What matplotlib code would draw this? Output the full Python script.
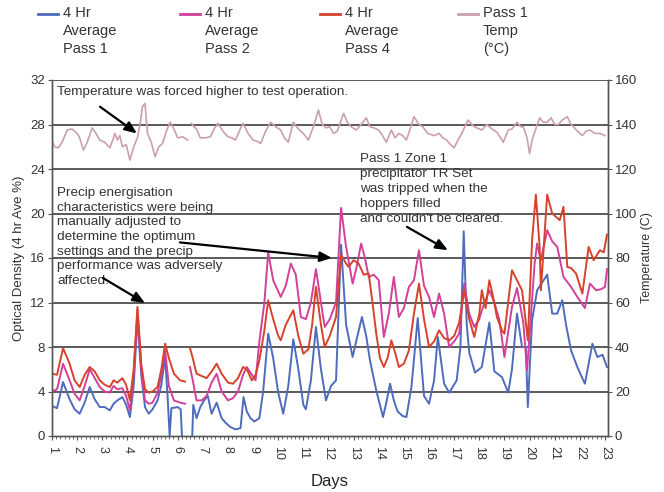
import numpy as np
import matplotlib
matplotlib.use("Agg")
from matplotlib import pyplot as plt
from matplotlib.ticker import MultipleLocator
from matplotlib.lines import Line2D

nan = np.nan

# 4 hr average, pass 1 (day, optical density %)
pass1 = [(1.0,2.7),(1.2,2.5),(1.44,4.85),(1.7,3.3),(1.9,2.4),(2.1,2.0),(2.3,3.0),(2.5,4.4),(2.7,3.3),(2.9,2.6),
	(3.1,2.6),(3.3,2.3),(3.45,2.9),(3.6,3.2),(3.8,3.5),(3.95,2.8),(4.1,1.7),(4.25,4.5),(4.4,10.6),(4.55,5.5),
	(4.7,2.6),(4.85,2.0),(5.0,2.4),(5.2,3.2),(5.35,4.6),(5.5,7.1),(5.6,3.5),(5.68,0.0),(5.75,2.5),(6.0,2.6),
	(6.12,2.4),(6.17,0.0),(6.3,nan),(6.58,0.0),(6.62,2.8),(6.75,1.6),(6.9,2.6),(7.05,3.2),(7.2,3.6),(7.35,2.0),
	(7.55,3.0),(7.75,1.6),(7.9,1.2),(8.1,0.8),(8.3,0.6),(8.5,0.7),(8.62,3.5),(8.75,2.2),(8.9,1.6),(9.05,1.3),
	(9.25,1.6),(9.4,4.0),(9.6,9.2),(9.8,7.0),(10.0,3.9),(10.2,2.0),(10.4,4.5),(10.6,8.7),(10.8,6.0),(11.0,2.8),
	(11.1,2.4),(11.3,5.0),(11.5,9.8),(11.7,6.0),(11.9,3.2),(12.1,4.5),(12.3,5.0),(12.5,17.2),(12.7,10.0),(12.96,7.1),
	(13.1,8.5),(13.33,10.7),(13.5,9.0),(13.65,6.8),(13.9,4.1),(14.17,1.7),(14.3,3.0),(14.45,4.7),(14.6,3.2),(14.75,2.2),
	(14.95,1.8),(15.1,1.7),(15.3,4.4),(15.55,10.6),(15.8,3.6),(16.0,2.9),(16.2,5.0),(16.35,8.9),(16.6,4.7),(16.8,3.9),
	(17.1,5.0),(17.25,8.0),(17.38,18.4),(17.5,10.0),(17.6,7.5),(17.83,5.7),(18.1,6.2),(18.4,10.2),(18.6,5.8),(18.9,5.3),
	(19.15,3.9),(19.3,6.0),(19.5,11.0),(19.7,8.0),(19.85,8.0),(19.93,2.6),(20.1,10.4),(20.3,13.1),(20.5,13.8),(20.7,14.5),
	(20.9,11.0),(21.1,11.0),(21.3,12.2),(21.45,10.0),(21.65,7.7),(21.9,6.2),(22.2,4.7),(22.35,6.5),(22.5,8.3),(22.7,7.1),
	(22.9,7.3),(23.08,6.2)]

# 4 hr average, pass 2
pass2 = [(1.0,4.0),(1.2,4.2),(1.44,6.5),(1.7,5.0),(1.9,3.8),(2.1,3.2),(2.3,4.5),(2.5,6.0),(2.7,5.2),(2.9,4.4),
	(3.1,4.0),(3.3,3.9),(3.45,4.5),(3.6,4.2),(3.8,4.3),(3.95,3.6),(4.1,2.3),(4.25,5.5),(4.4,11.3),(4.55,6.0),
	(4.7,3.2),(4.85,2.9),(5.0,3.0),(5.2,3.9),(5.35,5.5),(5.5,7.7),(5.65,4.5),(5.85,3.2),(6.1,3.0),(6.29,2.9),
	(6.4,nan),(6.49,6.2),(6.6,5.0),(6.75,3.2),(6.95,3.2),(7.15,3.6),(7.35,4.8),(7.55,5.6),(7.75,4.0),(8.0,3.2),
	(8.2,3.4),(8.4,4.0),(8.6,5.5),(8.75,6.2),(8.95,5.5),(9.1,5.0),(9.25,8.5),(9.45,12.0),(9.6,16.5),(9.8,14.0),
	(10.0,13.0),(10.1,12.5),(10.3,13.5),(10.5,15.5),(10.7,14.5),(10.9,10.7),(11.1,10.5),(11.3,12.0),(11.5,15.0),(11.7,12.0),
	(11.85,9.8),(12.05,10.5),(12.3,12.0),(12.5,20.5),(12.7,17.0),(12.96,13.7),(13.1,15.0),(13.3,17.3),(13.45,16.0),(13.6,14.3),
	(13.8,14.5),(14.0,14.0),(14.2,8.9),(14.4,11.0),(14.6,14.3),(14.8,10.7),(15.0,11.5),(15.2,13.4),(15.4,14.0),(15.6,16.7),
	(15.8,13.5),(16.0,12.5),(16.2,10.7),(16.4,12.8),(16.6,11.0),(16.8,8.0),(17.0,8.5),(17.2,9.2),(17.4,13.7),(17.6,11.0),
	(17.8,9.8),(18.0,10.5),(18.1,11.3),(18.4,13.1),(18.6,12.0),(18.8,10.4),(19.0,7.1),(19.3,11.6),(19.5,13.3),(19.75,10.2),
	(19.9,5.9),(20.2,15.5),(20.3,17.3),(20.45,15.8),(20.7,18.5),(20.9,17.5),(21.1,17.0),(21.35,14.3),(21.65,13.4),(21.9,12.5),
	(22.2,11.5),(22.4,13.7),(22.65,13.1),(22.85,13.2),(23.0,13.4),(23.08,15.0)]

# 4 hr average, pass 4
pass4 = [(1.0,5.6),(1.2,5.5),(1.44,7.9),(1.7,6.5),(1.9,5.0),(2.1,4.4),(2.3,5.5),(2.5,6.2),(2.7,5.8),(2.9,5.0),
	(3.1,4.6),(3.3,4.4),(3.45,5.0),(3.6,4.8),(3.8,5.2),(3.95,4.6),(4.1,3.2),(4.25,6.0),(4.4,11.6),(4.55,6.5),
	(4.7,4.2),(4.85,3.9),(5.0,4.0),(5.2,4.4),(5.35,6.0),(5.5,8.3),(5.65,7.0),(5.85,5.6),(6.1,5.0),(6.29,4.9),
	(6.4,nan),(6.49,7.9),(6.6,7.0),(6.75,5.6),(6.95,5.4),(7.15,5.2),(7.35,5.8),(7.55,6.5),(7.75,5.6),(8.0,4.8),
	(8.2,4.7),(8.4,5.2),(8.6,6.2),(8.75,6.0),(8.95,5.0),(9.1,5.5),(9.25,6.8),(9.45,9.5),(9.6,12.2),(9.8,10.5),
	(10.0,9.0),(10.1,8.6),(10.3,10.0),(10.6,11.3),(10.8,9.0),(11.0,7.4),(11.2,7.8),(11.35,10.0),(11.5,13.4),(11.7,10.0),
	(11.85,8.0),(12.05,9.0),(12.3,10.7),(12.5,16.3),(12.7,15.5),(12.8,15.2),(13.0,15.8),(13.2,15.5),(13.4,14.5),(13.6,14.6),
	(13.75,12.0),(13.9,9.2),(14.05,7.0),(14.2,6.2),(14.35,7.0),(14.5,8.6),(14.65,7.5),(14.8,6.2),(15.0,6.5),(15.2,7.7),
	(15.4,11.0),(15.6,13.7),(15.8,10.5),(16.0,8.0),(16.2,8.5),(16.4,9.5),(16.6,8.8),(16.8,8.6),(17.0,9.0),(17.2,10.2),
	(17.4,13.1),(17.6,10.5),(17.8,8.9),(18.0,11.0),(18.1,13.1),(18.25,11.5),(18.4,14.0),(18.55,12.5),(18.7,10.7),(18.9,9.5),
	(19.0,9.2),(19.3,14.9),(19.5,14.0),(19.7,13.1),(19.85,10.2),(19.93,8.6),(20.1,17.6),(20.25,21.7),(20.4,17.0),(20.45,13.1),
	(20.7,21.7),(20.9,20.0),(21.2,19.4),(21.35,20.6),(21.5,15.2),(21.65,15.1),(21.85,14.6),(22.1,12.8),(22.35,17.0),(22.55,15.8),
	(22.8,16.7),(22.95,16.5),(23.08,18.1)]

# pass 1 temperature (day, deg C)
temp1 = [(1.0,133),(1.1,130),(1.25,129.5),(1.4,132),(1.6,137.5),(1.8,138),(2.0,136),(2.1,134),(2.25,128.5),(2.4,132),
	(2.6,138.5),(2.75,136),(2.9,133),(3.1,132),(3.3,129.5),(3.45,134),(3.5,136),(3.6,133),(3.7,135),(3.8,130),
	(3.95,131),(4.1,124),(4.25,130),(4.4,134),(4.5,140),(4.6,148),(4.7,149.5),(4.8,136),(4.95,132),(5.1,125.5),
	(5.25,130),(5.4,131.5),(5.55,137),(5.7,141),(5.85,138),(6.0,134),(6.2,134.5),(6.4,133),(6.47,nan),(6.55,140.5),
	(6.65,139),(6.75,138),(6.9,134),(7.1,134),(7.3,134.5),(7.45,138),(7.6,140.5),(7.8,137),(8.0,134.5),(8.15,134),
	(8.3,133),(8.45,137),(8.6,140.5),(8.8,136),(9.0,133),(9.15,132.5),(9.3,131.5),(9.5,137),(9.7,141),(9.9,139),
	(10.1,137.5),(10.25,134),(10.4,132),(10.6,141),(10.8,138),(11.0,136),(11.2,133),(11.4,139),(11.6,146.5),(11.75,140),
	(11.9,138.5),(12.05,139),(12.2,136),(12.35,137),(12.6,145),(12.75,141),(12.9,139),(13.1,137.5),(13.3,140),(13.5,143),
	(13.65,139),(13.8,138.5),(14.0,137.5),(14.15,135),(14.3,132),(14.5,137.5),(14.65,134),(14.8,136),(14.95,135),(15.1,133),
	(15.25,138),(15.4,143.5),(15.6,140),(15.75,139),(15.95,136),(16.2,135),(16.4,136),(16.55,134),(16.7,133),(16.85,131),
	(17.0,129.5),(17.15,133),(17.3,136),(17.55,142),(17.7,140),(17.8,139),(18.0,138),(18.1,137.5),(18.3,140),(18.5,138),
	(18.7,136.5),(18.85,134),(18.95,132),(19.15,137.5),(19.3,138),(19.5,141),(19.65,139),(19.75,139),(19.9,134),(20.0,127),
	(20.1,133),(20.2,136.5),(20.4,143),(20.55,141),(20.7,141),(20.85,143),(21.0,140),(21.15,140),(21.3,142),(21.5,143.5),
	(21.65,140),(21.75,139),(21.9,137),(22.1,135),(22.25,137),(22.4,137.5),(22.6,136),(22.8,136),(23.0,135)]

day_ticks = list(range(1, 24))
od_ticks = list(range(0, 33, 4))
temp_ticks = list(range(0, 161, 20))
labels = ["4 Hr\nAverage\nPass 1", "4 Hr\nAverage\nPass 2", "4 Hr\nAverage\nPass 4", "Pass 1\nTemp\n(°C)"]
colors = ["#4f6bbd", "#d2409a", "#d7422c", "#caa0ac"]

plt.rcParams['font.family'] = ['Liberation Sans', 'DejaVu Sans']
fig = plt.figure(figsize=(6.64, 4.92), dpi=100)
W, H = 664, 492
ax = fig.add_axes([52 / W, 1 - 436 / H, (608 - 52) / W, (436 - 80) / H])
ax2 = ax.twinx()

gc = "#555555"
d, v = zip(*temp1)
ax2.plot(d, v, color=colors[3], lw=1.2)
for s, c in zip([pass1, pass2, pass4], colors[:3]):
	d, v = zip(*s)
	ax.plot(d, v, color=c, lw=1.4, zorder=3)

ax.set_xlim(1, 23.12)
ax.set_ylim(0, 32)
ax2.set_ylim(0, 160)
ax.set_yticks(od_ticks)
ax2.set_yticks(temp_ticks)
ax.set_xticks(day_ticks)
ax.set_xticklabels([str(t) for t in day_ticks], rotation=-90, fontsize=9, color="#333333")
ax.xaxis.set_minor_locator(MultipleLocator(1 / 6))
ax.tick_params(axis='x', which='major', length=3, width=0.8, color=gc, pad=4)
ax.tick_params(axis='x', which='minor', length=2, width=0.6, color=gc)
ax.tick_params(axis='y', length=3, width=0.8, color=gc, labelsize=9.5, labelcolor="#333333", pad=2)
ax2.tick_params(axis='y', length=3, width=0.8, color=gc, labelsize=9.5, labelcolor="#333333", pad=2)
for t in od_ticks[1:]:
	ax.axhline(t, color="#4d4d4d", lw=1.3, zorder=1)
for a in (ax, ax2):
	for sp in a.spines.values():
		sp.set_color(gc)
		sp.set_linewidth(1.0)
	a.spines['top'].set_visible(False)

ax.set_ylabel("Optical Density (4 hr Ave %)", fontsize=9.5, color="#333333", labelpad=4)
ax2.set_ylabel("Temperature (C)", fontsize=9, color="#333333", labelpad=3)
ax.set_xlabel("Days", fontsize=12, color="#222222", labelpad=10)

tc = "#333333"
fs = 9.7
ax.text(1.2, 31.45, "Temperature was forced higher to test operation.", fontsize=fs, color=tc, va='top')
ax.text(1.2, 22.4, "Precip energisation\ncharacteristics were being\nmanually adjusted to\ndetermine the optimum\n"
	"settings and the precip\nperformance was adversely\naffected.", fontsize=fs, color=tc, va='top', linespacing=1.3)
ax.text(13.25, 25.45, "Pass 1 Zone 1\nprecipitator TR Set\nwas tripped when the\nhoppers filled\nand couldn't be cleared.",
	fontsize=fs, color=tc, va='top', linespacing=1.34)
arrows = [((2.91, 29.6), (4.38, 27.2)), ((3.03, 14.2), (4.7, 11.95)), ((6.09, 17.4), (12.14, 16.0)),
	((15.12, 18.8), (16.75, 16.7))]
for tail, head in arrows:
	ax.annotate("", xy=head, xytext=tail, zorder=5,
		arrowprops=dict(arrowstyle='-|>,head_length=0.6,head_width=0.25', color='black', lw=1.6,
			shrinkA=0, shrinkB=0, mutation_scale=12))

# legend across the top
lx = [38, 180, 320, 458]
for x0, lab, c in zip(lx, labels, colors):
	fig.add_artist(Line2D([x0 / W, (x0 + 20) / W], [1 - 14 / H] * 2, color=c, lw=2))
	fig.text((x0 + 25) / W, 1 - 6 / H, lab, fontsize=10.5, color="#333333", va='top', linespacing=1.38)

fig.savefig("out.png", dpi=100)
